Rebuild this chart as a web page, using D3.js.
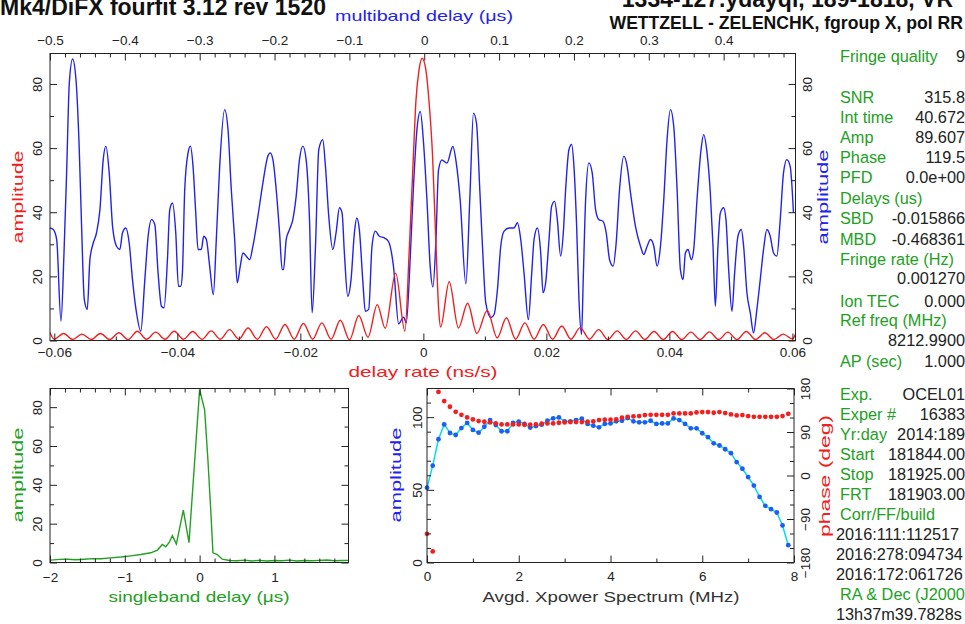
<!DOCTYPE html>
<html><head><meta charset="utf-8">
<script src="https://cdn.jsdelivr.net/npm/d3@7"></script>
<style>
body{margin:0;background:#fff;overflow:hidden;}
svg{display:block;}
text{font-family:"Liberation Sans",Arial,sans-serif;}
</style></head><body>
<svg id="c" width="965" height="624"></svg>
<script>
// ---------------- DATA ----------------
// multiband delay (us) vs amplitude (blue)
const mbdDelay = [-0.5,-0.4956,-0.4911,-0.4853,-0.4813,-0.4778,-0.4742,-0.4698,-0.4653,-0.4609,-0.4578,-0.4542,-0.4502,-0.4467,-0.4422,-0.4378,-0.4333,-0.4289,-0.4253,-0.4209,-0.4164,-0.4111,-0.4067,-0.4031,-0.3987,-0.3942,-0.3898,-0.3844,-0.3787,-0.3733,-0.3689,-0.3644,-0.36,-0.3556,-0.3511,-0.3476,-0.3431,-0.34,-0.3364,-0.332,-0.3284,-0.3253,-0.3231,-0.32,-0.3156,-0.3124,-0.3089,-0.3053,-0.3022,-0.2978,-0.2947,-0.2911,-0.2867,-0.2818,-0.2778,-0.2733,-0.2667,-0.2622,-0.2578,-0.2533,-0.2498,-0.2458,-0.2422,-0.2378,-0.2333,-0.2289,-0.2222,-0.2156,-0.2089,-0.2058,-0.2022,-0.1978,-0.1933,-0.1898,-0.188,-0.1844,-0.18,-0.1756,-0.1711,-0.1667,-0.1622,-0.1578,-0.1533,-0.1498,-0.1453,-0.1409,-0.1356,-0.132,-0.1276,-0.1222,-0.1178,-0.1133,-0.1098,-0.1067,-0.1022,-0.0978,-0.0933,-0.0902,-0.0867,-0.0822,-0.0787,-0.0742,-0.0698,-0.0653,-0.06,-0.0533,-0.0476,-0.041,-0.0342,-0.0276,-0.0240,-0.0187,-0.0142,-0.0098,-0.0053,-0.0009,0.0036,0.008,0.0116,0.0156,0.0191,0.0236,0.0302,0.0382,0.043,0.048,0.0556,0.0610,0.0658,0.0698,0.0742,0.0778,0.0822,0.0889,0.0933,0.0978,0.1022,0.1067,0.1133,0.12,0.1244,0.1289,0.1333,0.1391,0.1436,0.1467,0.1511,0.1556,0.1587,0.1622,0.1667,0.1702,0.1742,0.1778,0.1822,0.1858,0.1889,0.1933,0.1969,0.2,0.2036,0.2067,0.2102,0.2124,0.2156,0.22,0.2244,0.2289,0.2333,0.2387,0.2431,0.2476,0.2524,0.2564,0.2609,0.2667,0.2711,0.2756,0.2822,0.2889,0.2933,0.2978,0.3022,0.3067,0.3111,0.3156,0.32,0.3244,0.3289,0.3333,0.3378,0.3422,0.3458,0.3489,0.3524,0.3569,0.36,0.3644,0.3698,0.3733,0.3778,0.3822,0.3858,0.3889,0.3924,0.3956,0.4,0.4031,0.4067,0.4111,0.4147,0.4191,0.4236,0.4267,0.4311,0.4356,0.44,0.4444,0.4489,0.4533,0.4578,0.4622,0.4667,0.4711,0.4756,0.48,0.4844,0.4889,0.4933];
const mbdAmp = [35.1,34.6,31.5,6.0,27.3,52.3,80.3,87.8,81.4,59.5,35.6,12.8,9.7,25.2,30.4,33.6,40.8,56.4,60.6,52.3,35.6,29.4,28.4,33.6,35.1,30.4,19.0,8.6,2.9,19.0,32.5,37.7,36.2,21.1,10.7,10.2,25.2,40.8,42.9,33.6,16.9,16.9,21.1,47.1,58.5,60.6,54.3,39.8,28.4,28.4,32.5,31.5,23.2,14.3,31.5,54.3,72.0,65.8,47.1,31.5,18.0,23.2,27.3,26.3,25.2,29.4,38.8,49.1,57.5,58.5,56.4,47.1,33.6,22.1,22.1,31.5,34.6,37.7,45.0,56.4,60.6,56.4,37.7,8.6,29.4,59.5,62.6,54.3,38.8,28.4,33.6,41.4,39.8,27.3,13.8,19.0,33.6,38.2,34.6,19.0,9.1,9.7,29.4,34.1,32.5,32.0,30.8,22.9,5.2,7.3,5.5,26.0,49.0,65.7,71.4,61.5,43.8,22.9,16.7,31.3,53.2,56.3,55.3,60.5,55.0,43.8,17.7,45.0,70.9,67.8,47.1,29.4,11.7,7.1,8.1,15.9,29.4,34.1,35.1,35.1,36.7,31.5,21.1,6.5,21.1,31.5,35.1,27.3,14.9,18.0,31.5,41.9,43.4,37.7,26.3,33.6,47.1,59.5,61.1,54.3,35.6,12.8,1.9,19.0,43.9,55.4,52.3,40.8,37.7,37.2,33.6,25.2,23.2,30.4,47.1,57.5,54.3,46.0,35.6,29.4,26.8,29.4,31.5,29.4,23.2,29.4,43.9,62.6,72.0,66.8,47.1,22.1,19.0,27.3,28.4,25.2,28.4,43.9,59.5,64.2,58.5,46.0,29.4,10.7,29.4,39.8,41.4,37.7,22.1,9.1,21.1,32.5,34.6,29.4,14.9,8.6,2.4,9.7,19.0,28.4,34.6,32.5,27.3,26.3,37.7,52.3,56.4,54.3,39.8];

// delay rate (ns/s) vs amplitude (red)
const rateDelay = [-0.0607,-0.06,-0.0585,-0.057,-0.0555,-0.054,-0.0525,-0.051,-0.0495,-0.048,-0.0465,-0.045,-0.0435,-0.042,-0.0405,-0.039,-0.0375,-0.036,-0.0345,-0.033,-0.0315,-0.03,-0.0285,-0.027,-0.0255,-0.024,-0.0225,-0.021,-0.0195,-0.018,-0.0165,-0.015,-0.0135,-0.012,-0.0105,-0.009,-0.0075,-0.0062,-0.0045,-0.003,-0.0023,-0.0017,-0.0012,-0.0007,-0.0002,0.0004,0.0009,0.0015,0.002,0.0025,0.0028,0.0042,0.0057,0.0072,0.0087,0.0104,0.012,0.0135,0.015,0.0165,0.018,0.0195,0.021,0.0225,0.024,0.0255,0.027,0.0285,0.03,0.0315,0.033,0.0345,0.036,0.0375,0.039,0.0405,0.042,0.0435,0.045,0.0465,0.048,0.0495,0.051,0.0525,0.054,0.0555,0.057,0.0585,0.06,0.0605];
const rateAmp = [2.5,0.4,2.2,0.3,2.0,0.3,2.2,0.3,2.4,0.3,2.9,0.4,2.6,0.4,2.9,0.4,2.8,0.4,3.0,0.4,3.4,0.4,3.9,0.4,4.3,0.4,5.0,0.4,5.3,0.4,5.5,0.4,6.3,0.2,7.8,1.0,11.2,3.8,21.0,2.9,28.0,54.0,75.0,84.5,88.0,84.5,75.0,57.4,32.3,9.4,4.2,18.3,3.9,11.6,2.2,9.4,0.8,7.1,0.4,5.5,0.4,5.0,0.4,4.5,0.4,4.0,0.4,3.4,0.3,3.0,0.3,3.0,0.3,2.8,0.3,2.8,0.3,2.6,0.3,2.7,0.3,2.6,0.3,2.8,0.3,2.4,0.3,2.0,0.5,2.0];

// singleband delay (us) vs amplitude (green)
const sbdDelay = [-1.987,-1.876,-1.764,-1.653,-1.542,-1.431,-1.32,-1.187,-1.053,-0.92,-0.787,-0.653,-0.564,-0.498,-0.453,-0.409,-0.364,-0.311,-0.218,-0.142,0,0.067,0.111,0.156,0.178,0.236,0.302,0.4,0.5,0.6,0.7,0.8,0.9,1.0,1.1,1.2,1.3,1.4,1.5,1.6,1.7,1.8,1.9,1.99];
const sbdAmp = [1.2,1.6,1.7,1.4,1.7,2.0,1.9,2.4,2.8,3.4,4.1,5.0,6.4,9.3,8.1,10.2,13.8,9.5,27.0,10.2,89.0,78.6,52.8,21.8,5.0,4.1,1.7,1.0,0.9,1.2,0.8,1.1,0.8,1.0,0.9,1.2,0.8,1.0,0.9,1.1,1.3,0.9,1.0,1.1];

// Avgd. Xpower spectrum
const specFreq = [0,0.125,0.25,0.375,0.5,0.625,0.75,0.875,1,1.125,1.25,1.375,1.5,1.625,1.75,1.875,2,2.125,2.25,2.375,2.5,2.625,2.75,2.875,3,3.125,3.25,3.375,3.5,3.625,3.75,3.875,4,4.125,4.25,4.375,4.5,4.625,4.75,4.875,5,5.125,5.25,5.375,5.5,5.625,5.75,5.875,6,6.125,6.25,6.375,6.5,6.625,6.75,6.875,7,7.125,7.25,7.375,7.5,7.625,7.75,7.875];
const specAmp = [51.5,66.6,84.8,95.0,89.1,87.7,92.5,96.0,91.2,89.3,93.4,98.0,94.6,90.3,90.3,96.0,96.9,95.3,92.8,93.9,94.8,97.5,99.1,99.8,97.1,97.1,98.0,98.9,95.3,94.1,93.0,95.3,95.7,97.1,97.5,99.4,97.1,96.4,96.4,97.5,95.3,95.7,95.7,99.1,98.0,95.3,92.3,92.3,88.9,86.2,82.0,80.5,77.9,75.2,69.1,64.5,58.8,52.9,45.1,39.0,36.7,34.4,25.5,11.9];
const specPhase = [-120.7,-157,173,153.9,142.2,131.8,125.6,120.1,116,112.6,111.2,109.8,107.8,105.7,105.7,105.7,105.7,105,105,105.7,107.1,107.8,107.8,109.1,109.8,110.5,110.5,110.5,111.2,111.9,114.6,115.3,115.3,116,119.5,121.5,122.2,122.9,125,125.6,125.6,125.6,125.6,128.4,128.4,128.4,128.4,130.5,131.2,131.2,129.8,131.2,129.1,126.3,124.3,125,122.9,121.5,121.5,121.5,121.5,121.5,122.9,127.7];

// tick values
const mbdTicks = [-0.5,-0.4,-0.3,-0.2,-0.1,0,0.1,0.2,0.3,0.4];
const mbdMinor = [-0.48,-0.46,-0.44,-0.42,-0.38,-0.36,-0.34,-0.32,-0.28,-0.26,-0.24,-0.22,-0.18,-0.16,-0.14,-0.12,-0.08,-0.06,-0.04,-0.02,0.02,0.04,0.06,0.08,0.12,0.14,0.16,0.18,0.22,0.24,0.26,0.28,0.32,0.34,0.36,0.38,0.42,0.44,0.46,0.48];
const rateTicks = [-0.06,-0.04,-0.02,0,0.02,0.04,0.06];
const rateMinor = [-0.05,-0.03,-0.01,0.01,0.03,0.05];
const ampTicks = [0,20,40,60,80];
const ampMinor = [10,30,50,70];
const sbdTicks = [-2,-1,0,1];
const sbdMinor = [-1.8,-1.6,-1.4,-1.2,-0.8,-0.6,-0.4,-0.2,0.2,0.4,0.6,0.8,1.2,1.4,1.6,1.8];
const freqTicks = [0,2,4,6,8];
const freqMinor = [1,3,5,7];
const specAmpTicks = [0,50,100];
const specAmpMinor = [10,20,30,40,60,70,80,90,110];
const phaseTicks = [-180,-90,0,90,180];
const phaseMinor = [-150,-120,-60,-30,30,60,120,150];

// text panel
const titleLeft = "Mk4/DiFX fourfit 3.12 rev 1520";
const titleRight1 = "1334-127.ydayqi, 189-1818, VR";
const titleRight2 = "WETTZELL - ZELENCHK, fgroup X, pol RR";
const infoLabels = ["Fringe quality","SNR","Int time","Amp","Phase","PFD","Delays (us)","SBD","MBD","Fringe rate (Hz)","","Ion TEC","Ref freq (MHz)","","AP (sec)","Exp.","Exper #","Yr:day","Start","Stop","FRT","Corr/FF/build","","","","RA & Dec (J2000)",""];
const infoValues = ["9","315.8","40.672","89.607","119.5","0.0e+00","","-0.015866","-0.468361","","0.001270","0.000","","8212.9900","1.000","OCEL01","16383","2014:189","181844.00","181925.00","181903.00","","","","","",""];
const infoPlain = ["","","","","","","","","","","","","","","","","","","","","","","2016:111:112517","2016:278:094734","2016:172:061726","","13h37m39.7828s"];

// ---------------- LAYOUT ----------------
const BLUE="#2222ee", RED="#f02020", GREEN="#22a022", CYAN="#00dcee", DARK="#222";
const infoY = [62,103,123,143,163,183,203.5,224,244.5,264.5,284,306.5,326,345.5,366.5,400,420,440,460,480,500,520,540,560,580,600,620];
const M = {L:50, R:795.5, T:53.5, B:340.5};
const S = {L:50, R:348.5, T:388.5, B:562.5};
const P = {L:427, R:794, T:388.5, B:562.5};

const svg = d3.select("#c");

const xMbd = d3.scaleLinear().domain([-0.5,0.496]).range([M.L,M.R]);
const xRate = d3.scaleLinear().domain([-0.0607,0.0605]).range([M.L,M.R]);
const yMain = d3.scaleLinear().domain([0,89.5]).range([M.B,M.T]);
const xSbd = d3.scaleLinear().domain([-2,1.99]).range([S.L,S.R]);
const ySbd = d3.scaleLinear().domain([0,89.6]).range([S.B,S.T]);
const xFreq = d3.scaleLinear().domain([0,8]).range([P.L,P.R]);
const ySpec = d3.scaleLinear().domain([0,119.7]).range([P.B,P.T]);
const yPhase = d3.scaleLinear().domain([-180,180]).range([P.B,P.T]);

const fmt = d3.format("~g");

function drawAxis(o){
  const g = svg.append("g").attr("transform",`translate(${o.tx},${o.ty})`)
    .call(o.gen(o.scale).tickValues(o.major).tickSize(-7).tickPadding(o.pad||0).tickFormat(o.labels ? fmt : ""));
  g.attr("font-family",null).attr("font-size",null);
  g.select(".domain").remove();
  g.selectAll(".tick line").attr("stroke",DARK).attr("stroke-width",1);
  g.selectAll(".tick text").attr("fill",DARK).style("font-size","13.5px");
  if(o.rot!=null){
    g.selectAll(".tick text").attr("x",null).attr("y",null).attr("dy",null)
      .attr("text-anchor","middle").attr("transform",`translate(${o.rot},0) rotate(-90)`);
  }
  if(o.minor){
    const gm = svg.append("g").attr("transform",`translate(${o.tx},${o.ty})`)
      .call(o.gen(o.scale).tickValues(o.minor).tickSize(-4).tickFormat(""));
    gm.select(".domain").remove();
    gm.selectAll(".tick line").attr("stroke",DARK);
  }
}
function frame(F){
  svg.append("rect").attr("x",F.L).attr("y",F.T).attr("width",F.R-F.L).attr("height",F.B-F.T)
    .attr("fill","none").attr("stroke",DARK).attr("stroke-width",1);
}
function clip(id,F){
  svg.append("clipPath").attr("id",id).append("rect").attr("x",F.L).attr("y",F.T-1).attr("width",F.R-F.L).attr("height",F.B-F.T+1);
}
function title(txt,x,y,color,len,rot,size){
  const t = svg.append("text").text(txt).attr("fill",color).style("font-size",(size||15)+"px")
    .attr("text-anchor","middle").attr("textLength",len).attr("lengthAdjust","spacingAndGlyphs");
  if(rot) t.attr("transform",`translate(${x},${y}) rotate(-90)`); else t.attr("x",x).attr("y",y);
}

// ---- titles
svg.append("text").text(titleLeft).attr("x",0).attr("y",15).attr("font-weight","bold").style("font-size","23px").attr("fill","#111");
svg.append("text").text(titleRight1).attr("x",953).attr("y",7).attr("text-anchor","end").attr("font-weight","bold").style("font-size","23px").attr("fill","#111");
svg.append("text").text(titleRight2).attr("x",963).attr("y",29).attr("text-anchor","end").attr("font-weight","bold").style("font-size","17.6px").attr("fill","#111");

// ---- main plot
clip("cm",M); clip("cs",S); clip("cp",P);
const lineMbd = d3.line().x((d,i)=>xMbd(mbdDelay[i])).y(d=>yMain(d)).curve(d3.curveMonotoneX);
svg.append("path").datum(mbdAmp).attr("d",lineMbd).attr("fill","none").attr("stroke",BLUE).attr("stroke-width",1.4).attr("clip-path","url(#cm)");
const lineRate = d3.line().x((d,i)=>xRate(rateDelay[i])).y(d=>yMain(d)).curve(d3.curveMonotoneX);
svg.append("path").datum(rateAmp).attr("d",lineRate).attr("fill","none").attr("stroke",RED).attr("stroke-width",1.4).attr("clip-path","url(#cm)");
frame(M);
drawAxis({gen:d3.axisTop,scale:xMbd,major:mbdTicks,minor:mbdMinor,tx:0,ty:M.T,labels:true,pad:8.5});
drawAxis({gen:d3.axisBottom,scale:xRate,major:rateTicks,minor:rateMinor,tx:0,ty:M.B,labels:true,pad:6.5});
drawAxis({gen:d3.axisLeft,scale:yMain,major:ampTicks,minor:ampMinor,tx:M.L,ty:0,labels:true,rot:-8});
drawAxis({gen:d3.axisRight,scale:yMain,major:ampTicks,minor:ampMinor,tx:M.R,ty:0,labels:true,rot:16});
title("multiband delay (\u03bcs)",424,21,BLUE,178);
title("delay rate (ns/s)",423,377,RED,149);
title("amplitude",23,197,RED,93,true);
title("amplitude",828,197,BLUE,95,true);

// ---- singleband delay panel
const lineSbd = d3.line().x((d,i)=>xSbd(sbdDelay[i])).y(d=>ySbd(d));
svg.append("path").datum(sbdAmp).attr("d",lineSbd).attr("fill","none").attr("stroke",GREEN).attr("stroke-width",1.4).attr("clip-path","url(#cs)");
frame(S);
drawAxis({gen:d3.axisBottom,scale:xSbd,major:sbdTicks,minor:sbdMinor,tx:0,ty:S.B,labels:true,pad:9.5});
drawAxis({gen:d3.axisTop,scale:xSbd,major:sbdTicks,minor:sbdMinor,tx:0,ty:S.T});
drawAxis({gen:d3.axisLeft,scale:ySbd,major:ampTicks,minor:ampMinor,tx:S.L,ty:0,labels:true,rot:-8});
drawAxis({gen:d3.axisRight,scale:ySbd,major:ampTicks,minor:ampMinor,tx:S.R,ty:0});
title("singleband delay (\u03bcs)",199,602,GREEN,181);
title("amplitude",23,475,GREEN,95,true);

// ---- spectrum panel
const lineSpec = d3.line().x((d,i)=>xFreq(specFreq[i])).y(d=>ySpec(d));
svg.append("path").datum(specAmp).attr("d",lineSpec).attr("fill","none").attr("stroke",CYAN).attr("stroke-width",1.5).attr("clip-path","url(#cp)");
svg.append("g").selectAll("circle").data(specAmp).join("circle")
  .attr("cx",(d,i)=>xFreq(specFreq[i])).attr("cy",d=>ySpec(d)).attr("r",2.4).attr("fill","#1e5cf5");
svg.append("g").selectAll("circle").data(specPhase).join("circle")
  .attr("cx",(d,i)=>xFreq(specFreq[i])).attr("cy",d=>yPhase(d)).attr("r",2.4).attr("fill","#f51e1e");
frame(P);
drawAxis({gen:d3.axisBottom,scale:xFreq,major:freqTicks,minor:freqMinor,tx:0,ty:P.B,labels:true,pad:9});
drawAxis({gen:d3.axisTop,scale:xFreq,major:freqTicks,minor:freqMinor,tx:0,ty:P.T});
drawAxis({gen:d3.axisLeft,scale:ySpec,major:specAmpTicks,minor:specAmpMinor,tx:P.L,ty:0,labels:true,rot:-5});
drawAxis({gen:d3.axisRight,scale:yPhase,major:phaseTicks,minor:phaseMinor,tx:P.R,ty:0,labels:true,rot:16});
title("Avgd. Xpower Spectrum (MHz)",611,602,"#333",257);
title("amplitude",401,475,BLUE,95,true);
title("phase (deg)",830,476,RED,122,true);

// ---- info text panel
const info = svg.append("g").style("font-size","16.3px");
infoLabels.forEach((t,i)=>{ if(t) info.append("text").text(t).attr("x",840).attr("y",infoY[i]).attr("fill",GREEN); });
infoValues.forEach((t,i)=>{ if(t) info.append("text").text(t).attr("x",965).attr("y",infoY[i]).attr("text-anchor","end").attr("fill",DARK); });
infoPlain.forEach((t,i)=>{ if(t) info.append("text").text(t).attr("x",836).attr("y",infoY[i]).attr("fill",DARK); });
</script>
</body></html>
